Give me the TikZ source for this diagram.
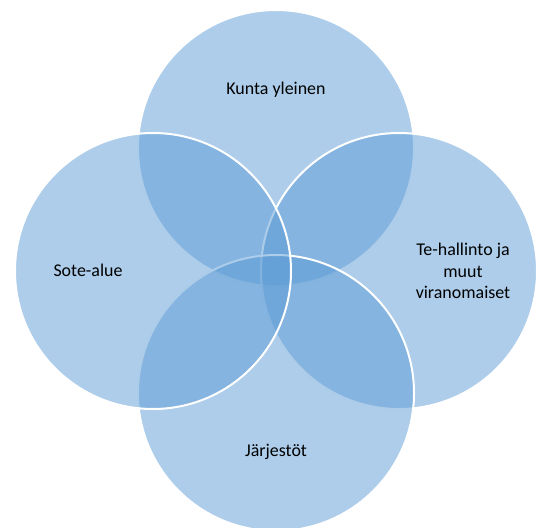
\documentclass[tikz,border=0pt]{standalone}
\usepackage{fontspec}
\setmainfont{Carlito}
\definecolor{accent}{RGB}{91,155,213}
\begin{document}
\begin{tikzpicture}[x=1bp,y=-1bp,
  venn/.style={fill=accent,fill opacity=0.5,draw=white,line width=2bp},
  lbl/.style={font=\fontsize{18}{21.5}\selectfont,text=black,align=center,inner sep=0pt}]
\useasboundingbox (0,0) rectangle (538,528);
\begin{scope}
\clip (0,0) rectangle (538,528);
\path[venn] (276,148) circle[radius=138];
\path[venn] (399,271) circle[radius=138];
\path[venn] (276,393) circle[radius=138];
\path[venn] (153,271) circle[radius=138];
\end{scope}
\node[lbl] (top) at (276,90) {Kunta yleinen};
\node[lbl] (left) at (88,270) {Sote-alue};
\node[lbl] (right) at (463,271) {Te-hallinto ja\\muut\\viranomaiset};
\node[lbl] (bottom) at (276,452) {Järjestöt};
\end{tikzpicture}
\end{document}
